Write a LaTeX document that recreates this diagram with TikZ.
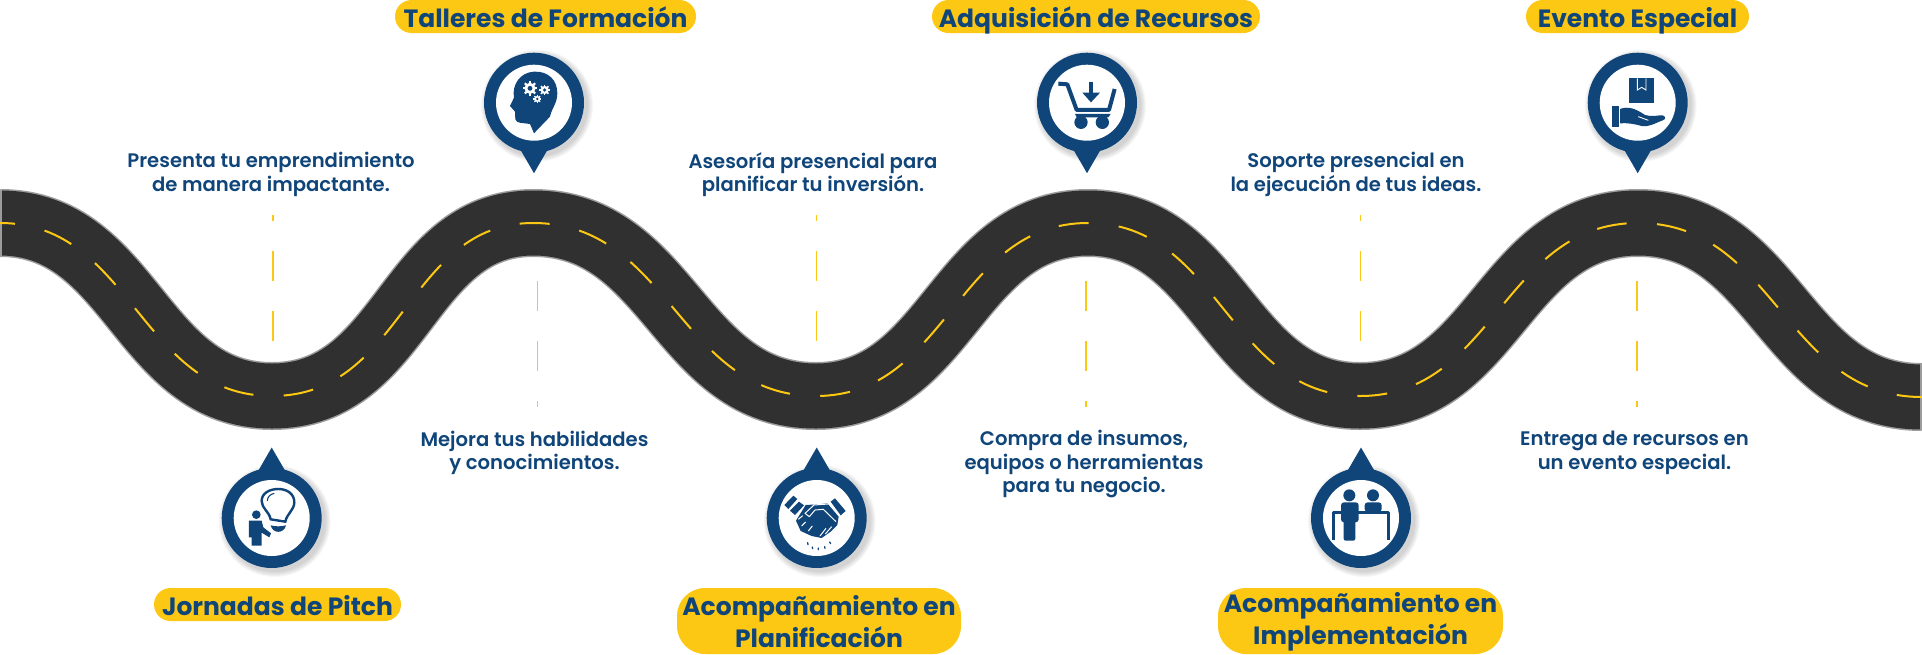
\documentclass[tikz,border=0pt]{standalone}
\usepackage{fontspec}
\newfontfamily\popsemi{Poppins SemiBold}
\newfontfamily\popbold{Poppins Bold}
\definecolor{navyblue}{HTML}{10457A}
\definecolor{signyellow}{HTML}{FDC813}
\definecolor{asphalt}{HTML}{303030}
\definecolor{kerbgrey}{HTML}{9C9C9C}
\tikzset{
	pillbox/.style={fill=signyellow, rounded corners=16.5pt, text=navyblue, font=\popbold\fontsize{25}{32.5}\selectfont, align=center, inner sep=0pt},
	pillline/.style={pillbox, minimum height=33pt, text height=26pt, text depth=3.5pt},
	infotext/.style={text=navyblue, font=\popsemi\fontsize{19.6}{23.5}\selectfont, align=center, inner sep=0pt},
	guideline/.style={signyellow, line width=1.6pt, dash pattern=on 30pt off 30pt},
	ink/.style={fill=navyblue, draw=none},
	inkline/.style={draw=navyblue, fill=none},
}
\def\roadline{(0,223) .. controls +(132,0) and +(-132,0) .. (272,396)
	.. controls +(132,0) and +(-127,0) .. (533,223)
	.. controls +(137,0) and +(-137,0) .. (816,396)
	.. controls +(132,0) and +(-132,0) .. (1088,223)
	.. controls +(132,0) and +(-132,0) .. (1360,396)
	.. controls +(135,0) and +(-135,0) .. (1638,223)
	.. controls +(138,0) and +(-138,0) .. (1922,397)}
% pin: x, y, sign of the tip direction
\newcommand{\pinmark}[3]{
	\foreach \spread in {12,10,8,6,4,2}{
		\fill[black, opacity=.03] (#1+3,#2+3) circle (50+\spread/2);
	}
	\fill[navyblue] (#1,#2) circle (50);
	\fill[navyblue] (#1-13,#2+#3*48) -- (#1,#2+#3*70.5) -- (#1+13,#2+#3*48) -- cycle;
	\fill[white] (#1,#2) circle (38);
}
% gear: x, y, radius in real size
\newcommand{\gearmark}[3]{
	\foreach \tooth in {0,45,...,315}{
		\draw[white, line width=#3*.3pt] (#1,#2) ++(\tooth:#3*1.8) -- ++(\tooth:#3*1.2);
	}
	\fill[white] (#1,#2) circle (#3*2.3);
	\fill[navyblue] (#1,#2) circle (#3*1);
}
\begin{document}
\begin{tikzpicture}[x=1pt, y=-1pt]
	\useasboundingbox (0,0) rectangle (1922,654);
	% road
	\draw[kerbgrey, line width=68pt] \roadline;
	\draw[asphalt, line width=65pt] \roadline;
	\draw[kerbgrey, line width=1.6pt] (.8,190) -- (.8,256) (1921.2,364) -- (1921.2,430);
	\draw[signyellow, line width=2pt, dash pattern=on 30pt off 30.4pt, dash phase=15pt] \roadline;
	% vertical guides
	\coordinate (gtopa) at (272.7,215);  \coordinate (gbota) at (272.7,341);
	\coordinate (gtopb) at (537.3,281);  \coordinate (gbotb) at (537.3,407);
	\coordinate (gtopc) at (816.5,215);  \coordinate (gbotc) at (816.5,341);
	\coordinate (gtopd) at (1086,281);   \coordinate (gbotd) at (1086,407);
	\coordinate (gtope) at (1360.5,215); \coordinate (gbote) at (1360.5,341);
	\coordinate (gtopf) at (1637,281);   \coordinate (gbotf) at (1637,407);
	\draw[guideline, dash phase=24pt] (gtopa) -- (gbota);
	\draw[guideline] (gtopb) -- (gbotb);
	\draw[guideline, dash phase=24pt] (gtopc) -- (gbotc);
	\draw[guideline] (gtopd) -- (gbotd);
	\draw[guideline, dash phase=24pt] (gtope) -- (gbote);
	\draw[guideline] (gtopf) -- (gbotf);
	% pins
	\pinmark{271.7}{518}{-1}
	\pinmark{534}{102.7}{1}
	\pinmark{816.7}{518}{-1}
	\pinmark{1087}{102.7}{1}
	\pinmark{1361}{518}{-1}
	\pinmark{1637.7}{102.7}{1}
	% bulb
	\begin{scope}[shift={(180,430)}, scale=.3333]
		\fill[ink] (229,254) circle (13);
		\fill[ink] (207,272) -- (245,272) -- (250,292) -- (273,310) -- (268,322) -- (245,308) -- (245,347) -- (215,347) -- (215,322) -- (207,322) -- cycle;
		\draw[inkline, line width=2.4pt] (272,268) .. controls (268,245) and (245,235) .. (245,213) .. controls (245,190) and (268,177) .. (295,177) .. controls (322,177) and (343,192) .. (343,217) .. controls (343,240) and (320,252) .. (316,275) -- cycle;
		\draw[inkline, line width=1.1pt] (262,213) .. controls (262,200) and (272,192) .. (283,190);
		\fill[ink] (272,286) .. controls (285,290) and (305,290) .. (318,286) .. controls (312,312) and (278,312) .. (272,286) -- cycle;
	\end{scope}
	% head with gears
	\begin{scope}[shift={(440,0)}, scale=.3333]
		\fill[ink] (282,215) .. controls (325,213) and (352,240) .. (352,280) .. controls (352,310) and (335,325) .. (330,350) -- (282,400) -- (270,372) .. controls (250,368) and (230,372) .. (226,358) -- (225,335) -- (210,318) -- (222,293) .. controls (215,255) and (240,217) .. (282,215) -- cycle;
		\gearmark{270}{265}{7.3}
		\gearmark{314}{270}{5.3}
		\gearmark{292}{297}{4}
	\end{scope}
	% handshake
	\begin{scope}[shift={(740,450)}, scale=.3333]
		\fill[ink] (133,165) -- (160,137) -- (172,147) -- (145,177) -- cycle;
		\fill[ink] (150,182) -- (177,155) -- (192,166) -- (165,195) -- cycle;
		\fill[ink] (272,155) -- (285,145) -- (317,183) -- (302,196) -- cycle;
		\fill[ink] (168,212) -- (197,165) -- (235,163) -- (262,160) -- (296,200) -- (292,225) -- (272,245) -- (245,264) -- (215,258) -- (182,243) -- cycle;
		\draw[white, line width=1pt, line join=round] (288,215) -- (250,178) -- (225,180) -- (208,200) -- (195,190) -- (222,165) -- (265,162);
		\draw[white, line width=1pt] (175,208) -- (188,197) (185,228) -- (197,216) (205,243) -- (217,228) (240,258) -- (258,235) (256,252) -- (275,230);
		\draw[navyblue, line width=1.3pt, line cap=round] (203,278) -- (204,284) (217,291) -- (218,296) (235,294) -- (235,299) (254,290) -- (255,295) (269,276) -- (272,281);
	\end{scope}
	% cart
	\begin{scope}[shift={(1020,40)}, scale=.3333]
		\draw[inkline, line width=4pt, line join=round] (115,131) -- (142,133) -- (170,210) -- (267,210) -- (284,147);
		\fill[ink] (165,222) -- (272,222) -- (265,232) -- (170,232) -- cycle;
		\fill[ink] (183,247) circle (20);
		\fill[ink] (247,247) circle (20);
		\fill[ink] (206,127) rectangle (219,158);
		\fill[ink] (187,158) -- (240,158) -- (213,187) -- cycle;
	\end{scope}
	% people at a desk
	\begin{scope}[shift={(1300,450)}, scale=.3333]
		\draw[inkline, line width=2.6pt, line join=round] (101,270) -- (101,188) -- (266,188) -- (266,270);
		\fill[ink] (148,136) circle (18);
		\fill[ink] (219,136) circle (18);
		\fill[ink, rounded corners=3pt] (194,186) -- (194,157) -- (245,157) -- (245,186) -- cycle;
		\fill[ink, rounded corners=3pt] (123,157) rectangle (176,217);
		\fill[ink, rounded corners=2pt] (131,205) rectangle (166,272);
	\end{scope}
	% box on a hand
	\begin{scope}[shift={(1560,40)}, scale=.3333]
		\fill[ink] (208,115) rectangle (283,188);
		\draw[white, line width=.9pt] (232,115) -- (232,150) -- (245,142) -- (258,150) -- (258,115);
		\fill[ink] (157,197) rectangle (176,260);
		\fill[ink] (180,207) .. controls (205,198) and (225,205) .. (255,225) .. controls (275,232) and (295,225) .. (308,226) .. controls (318,230) and (318,238) .. (308,241) .. controls (285,250) and (265,262) .. (245,258) .. controls (225,252) and (200,248) .. (180,250) -- cycle;
		\draw[white, line width=.9pt] (235,230) -- (265,241);
	\end{scope}
	% labels
	\node[pillline, minimum width=247pt] (pitch) at (277.5,604.5) {Jornadas de Pitch};
	\node[pillline, minimum width=301pt] (talleres) at (545.5,16.5) {Talleres de Formación};
	\node[pillline, minimum width=328pt] (recursos) at (1096,16.5) {Adquisición de Recursos};
	\node[pillline, minimum width=223pt] (evento) at (1637.5,16.5) {Evento Especial};
	\node[pillbox, rounded corners=28pt, minimum width=284pt, minimum height=66pt] (planif) at (819,621) {};
	\node[pillbox, rounded corners=28pt, minimum width=285pt, minimum height=66pt] (implem) at (1360.5,621) {};
	\node[pillbox, fill=none] (planiftxt) at (819,621.8) {Acompañamiento en\\Planificación};
	\node[pillbox, fill=none] (implemtxt) at (1360.5,621.8) {Acompañamiento en\\Implementación};
	\node[infotext] (txtpitch) at (271,174.5) {Presenta tu emprendimiento\\de manera impactante.};
	\node[infotext] (txttalleres) at (534.5,453) {Mejora tus habilidades\\y conocimientos.};
	\node[infotext] (txtplanif) at (813,174.5) {Asesoría presencial para\\planificar tu inversión.};
	\node[infotext] (txtrecursos) at (1084,464) {Compra de insumos,\\equipos o herramientas\\para tu negocio.};
	\node[infotext] (txtimplem) at (1356,174.5) {Soporte presencial en\\la ejecución de tus ideas.};
	\node[infotext] (txtevento) at (1634.5,453) {Entrega de recursos en\\un evento especial.};
\end{tikzpicture}
\end{document}
